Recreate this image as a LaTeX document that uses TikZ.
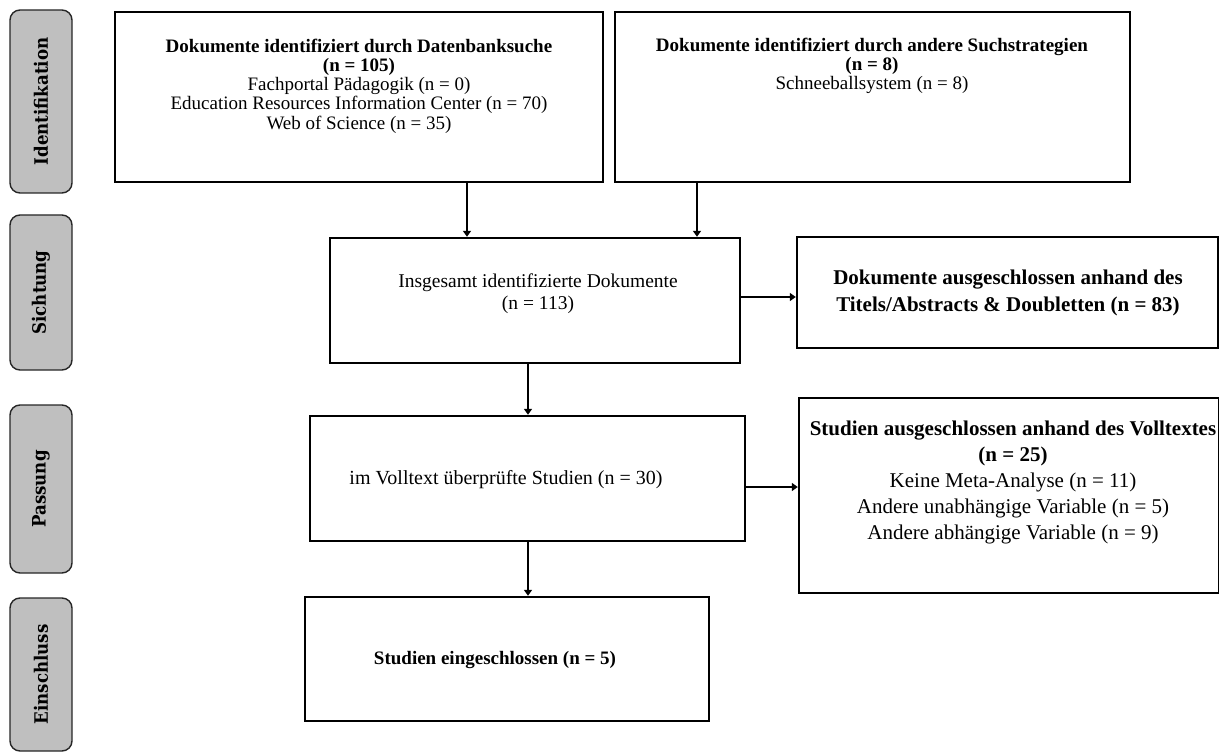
\documentclass[tikz,border=0pt]{standalone}
\usepackage{fontspec}
\setmainfont{Liberation Serif}
\newfontfamily\slab[FakeStretch=0.9]{DejaVu Serif}
\usetikzlibrary{arrows.meta}
\begin{document}
\begin{tikzpicture}[x=1pt,y=-1pt,
  box/.style={draw=black, line width=2.4pt, inner sep=0pt},
  side/.style={draw=black!85, line width=1.4pt, fill=gray!50, rounded corners=10pt, inner sep=0pt},
  lbl/.style={align=center, inner sep=0pt},
  arr/.style={line width=2pt, -{Triangle[length=6pt,width=8pt]}},
  sidetxt/.style={font=\slab\bfseries\fontsize{18.5}{18.5}\selectfont}]
\useasboundingbox (0,0) rectangle (1219,754);
% phase boxes
\node[side, sidetxt, rotate=90, minimum width=183pt, minimum height=62pt] (s1) at (41,101.5) {Identifikation};
\node[side, sidetxt, rotate=90, minimum width=155pt, minimum height=62pt] (s2) at (41,292.5) {Sichtung};
\node[side, sidetxt, rotate=90, minimum width=168pt, minimum height=62pt] (s3) at (41,489) {Passung};
\node[side, sidetxt, rotate=90, minimum width=153pt, minimum height=62pt] (s4) at (41,674.5) {Einschluss};
% main boxes
\node[box, minimum width=488pt, minimum height=170pt] (b1) at (359,97) {};
\node[box, minimum width=515pt, minimum height=170pt] (b2) at (872.5,97) {};
\node[box, minimum width=410pt, minimum height=125pt] (b3) at (535,300.5) {};
\node[box, minimum width=435pt, minimum height=125pt] (b4) at (527.5,478.5) {};
\node[box, minimum width=404pt, minimum height=124pt] (b5) at (507,659) {};
\node[box, minimum width=421pt, minimum height=111pt] (r1) at (1007.5,292.5) {};
\node[box, minimum width=420pt, minimum height=195pt] (r2) at (1009,495.5) {};
% texts
\node[lbl, font=\fontsize{19}{19.3}\selectfont] (t1) at (359,86)
  {\textbf{Dokumente identifiziert durch Datenbanksuche}\\ \textbf{(n = 105)}\\ Fachportal Pädagogik (n = 0)\\ Education Resources Information Center (n = 70)\\ Web of Science (n = 35)};
\node[lbl, font=\fontsize{19}{19.3}\selectfont] (t2) at (872,66)
  {\textbf{Dokumente identifiziert durch andere Suchstrategien}\\ \textbf{(n = 8)}\\ Schneeballsystem (n = 8)};
\node[lbl, font=\fontsize{19.5}{22}\selectfont] (t3) at (538,294)
  {Insgesamt identifizierte Dokumente\\ (n = 113)};
\node[lbl, font=\fontsize{21}{26.5}\selectfont\bfseries] (t4) at (1008,293)
  {Dokumente ausgeschlossen anhand des\\ Titels/Abstracts \& Doubletten (n = 83)};
\node[lbl, font=\fontsize{20}{20}\selectfont] (t5) at (506,480)
  {im Volltext überprüfte Studien (n = 30)};
\node[lbl, font=\fontsize{21}{26}\selectfont] (t6) at (1013,482)
  {\textbf{Studien ausgeschlossen anhand des Volltextes}\\ \textbf{(n = 25)}\\ Keine Meta-Analyse (n = 11)\\ Andere unabhängige Variable (n = 5)\\ Andere abhängige Variable (n = 9)};
\node[lbl, font=\fontsize{19}{19}\selectfont\bfseries] (t7) at (495,660)
  {Studien eingeschlossen (n = 5)};
% arrows
\coordinate (c1) at (467,0);
\coordinate (c2) at (697,0);
\coordinate (c3) at (528,0);
\coordinate (c5) at (0,297);
\coordinate (c6) at (0,487);
\draw[arr] (c1 |- b1.south) -- (c1 |- b3.north);
\draw[arr] (c2 |- b2.south) -- (c2 |- b3.north);
\draw[arr] (c3 |- b3.south) -- (c3 |- b4.north);
\draw[arr] (c3 |- b4.south) -- (c3 |- b5.north);
\draw[arr] (b3.east |- c5) -- (r1.west |- c5);
\draw[arr] (b4.east |- c6) -- (r2.west |- c6);
\end{tikzpicture}
\end{document}
